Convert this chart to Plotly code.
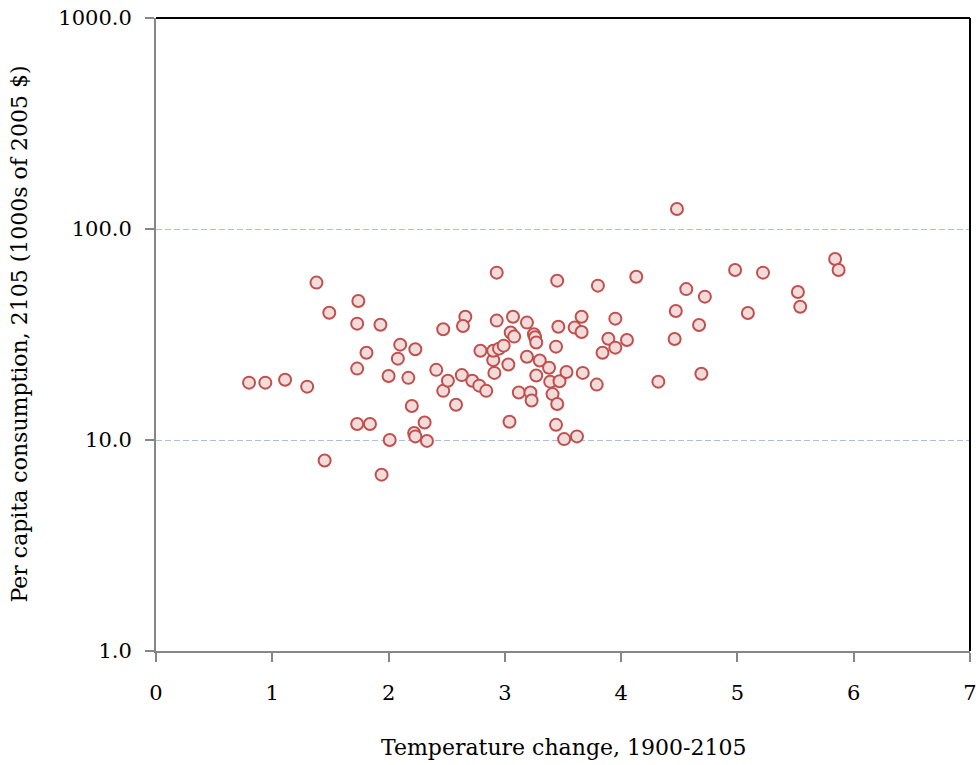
import plotly.graph_objects as go

temp_change = [
    0.80, 0.94, 1.11, 1.30, 1.38, 1.49, 1.45, 1.74, 1.73, 1.73,
    1.73, 1.84, 1.81, 1.93, 1.94, 2.00, 2.01, 2.08, 2.10, 2.17,
    2.20, 2.22, 2.23, 2.23, 2.31, 2.33, 2.41, 2.47, 2.47, 2.51,
    2.58, 2.66, 2.64, 2.63, 2.72, 2.78, 2.79, 2.84, 2.90, 2.91,
    2.90, 2.93, 2.93, 2.95, 2.99, 3.04, 3.03, 3.07, 3.05, 3.08,
    3.12, 3.19, 3.19, 3.22, 3.23, 3.25, 3.26, 3.27, 3.27, 3.30,
    3.38, 3.39, 3.41, 3.44, 3.44, 3.45, 3.45, 3.46, 3.47, 3.51,
    3.53, 3.62, 3.60, 3.66, 3.66, 3.67, 3.79, 3.80, 3.84, 3.89,
    3.95, 3.95, 4.05, 4.13, 4.32, 4.48, 4.47, 4.46, 4.56, 4.67,
    4.69, 4.72, 4.98, 5.09, 5.22, 5.52, 5.54, 5.84, 5.87,
]
consumption = [
    18.7, 18.7, 19.3, 17.9, 55.7, 40.1, 8.0, 45.6, 35.6, 21.8,
    11.9, 11.9, 25.9, 35.2, 6.85, 20.1, 10.0, 24.3, 28.3, 19.7,
    14.5, 10.8, 10.4, 26.9, 12.1, 9.9, 21.5, 33.5, 17.1, 19.1,
    14.7, 38.4, 34.7, 20.3, 19.1, 18.1, 26.5, 17.1, 23.9, 20.8,
    26.5, 62.1, 36.8, 27.1, 28.0, 12.2, 22.8, 38.4, 32.3, 30.9,
    16.8, 36.0, 24.8, 16.8, 15.4, 31.7, 30.7, 29.0, 20.2, 23.8,
    22.0, 18.9, 16.5, 11.8, 27.7, 56.9, 14.8, 34.4, 19.0, 10.1,
    21.0, 10.4, 34.1, 32.5, 38.4, 20.8, 18.3, 53.9, 25.9, 30.2,
    27.4, 37.6, 29.8, 59.4, 18.9, 124.4, 40.9, 30.1, 51.9, 35.1,
    20.6, 47.8, 63.9, 40.0, 62.1, 50.3, 42.8, 72.1, 63.9,
]
y_tick_vals = [1, 10, 100, 1000]
y_tick_text = ["1.0", "10.0", "100.0", "1000.0"]
x_tick_vals = [0, 1, 2, 3, 4, 5, 6, 7]
x_title = "Temperature change, 1900-2105"
y_title = "Per capita consumption, 2105 (1000s of 2005 $)"

FONT = "DejaVu Serif"
AXIS_GREY = "#868686"

fig = go.Figure()
fig.add_trace(go.Scatter(
    x=temp_change, y=consumption, mode="markers",
    marker=dict(size=12, color="#F2DCDB", line=dict(color="#C0504D", width=2)),
    showlegend=False, hoverinfo="x+y",
))

fig.update_layout(
    width=979, height=765,
    margin=dict(l=156, r=9, t=18, b=114),
    paper_bgcolor="white", plot_bgcolor="white",
    font=dict(family=FONT, size=22, color="black"),
    xaxis=dict(
        range=[0, 7], tickvals=x_tick_vals, ticktext=[str(v) for v in x_tick_vals],
        showgrid=False, zeroline=False, automargin=False,
        showline=True, linecolor=AXIS_GREY, linewidth=2,
        ticks="outside", ticklen=9, tickcolor=AXIS_GREY, tickwidth=2,
        ticklabelstandoff=13, ticklabeloverflow="allow",
        tickfont=dict(family=FONT, size=21),
    ),
    yaxis=dict(
        type="log", range=[0, 3], tickvals=y_tick_vals, ticktext=y_tick_text,
        showgrid=True, gridcolor="#A9BFE9", griddash="6px,3px", gridwidth=1,
        zeroline=False, automargin=False,
        showline=True, linecolor=AXIS_GREY, linewidth=2,
        ticks="outside", ticklen=9, tickcolor=AXIS_GREY, tickwidth=2,
        ticklabelstandoff=9, ticklabeloverflow="allow",
        tickfont=dict(family=FONT, size=21),
    ),
    shapes=[
        dict(type="line", xref="paper", yref="paper", x0=0, x1=1, y0=1, y1=1,
             line=dict(color="black", width=2)),
        dict(type="line", xref="paper", yref="paper", x0=1, x1=1, y0=0, y1=1,
             line=dict(color="black", width=2)),
    ],
    annotations=[
        dict(text=x_title, xref="paper", yref="paper", x=0.5, y=0,
             xanchor="center", yanchor="middle", yshift=-96, showarrow=False,
             font=dict(family=FONT, size=22)),
        dict(text=y_title, xref="paper", yref="paper", x=0, y=0.5,
             xanchor="center", yanchor="middle", xshift=-137, textangle=-90,
             showarrow=False, font=dict(family=FONT, size=22)),
    ],
)

fig.write_html(
    "out.html",
    config={"displayModeBar": False},
    post_script="document.body.style.margin='0px';document.body.style.overflow='hidden';",
)
